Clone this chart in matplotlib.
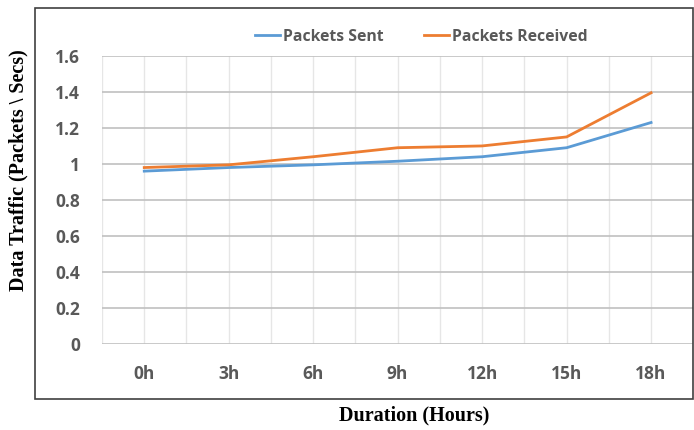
import matplotlib.pyplot as plt
from matplotlib.patches import Rectangle

hours = ['0h', '3h', '6h', '9h', '12h', '15h', '18h']
packets_sent = [0.96, 0.98, 0.995, 1.015, 1.04, 1.09, 1.23]
packets_received = [0.98, 0.995, 1.04, 1.09, 1.10, 1.15, 1.395]
y_ticks = [0, 0.2, 0.4, 0.6, 0.8, 1, 1.2, 1.4, 1.6]

tick_font = 'Open Sans'
gray = '#595959'

fig = plt.figure(figsize=(6.94, 4.30), dpi=100)
ax = fig.add_axes([0.147, 0.2, 0.852, 0.67])

x = list(range(len(hours)))
ax.plot(x, packets_sent, color='#5B9BD5', lw=2, label='Packets Sent', zorder=3)
ax.plot(x, packets_received, color='#ED7D31', lw=2, label='Packets Received', zorder=3)

ax.set_xlim(-0.5, len(hours) - 0.5)
ax.set_ylim(0, 1.6)
ax.set_yticks(y_ticks)
ax.set_yticklabels(['0', '0.2', '0.4', '0.6', '0.8', '1', '1.2', '1.4', '1.6'])
ax.set_xticks(x)
ax.set_xticklabels(hours)
ax.set_xticks([i - 0.5 for i in range(len(hours) + 1)], minor=True)

for lab in ax.get_xticklabels() + ax.get_yticklabels():
    lab.set_fontfamily(tick_font)
    lab.set_fontweight('bold')
    lab.set_fontsize(12.5)
    lab.set_color(gray)

ax.tick_params(axis='both', which='both', length=0)
ax.tick_params(axis='x', pad=15)
ax.tick_params(axis='y', pad=16)

ax.grid(axis='y', color='#C0C0C0', lw=1.2)
ax.grid(axis='x', which='both', color='#E6E6E6', lw=1)
for s in ax.spines.values():
    s.set_visible(False)

fig.text(18 / 694, 1 - 170 / 430, 'Data Traffic (Packets \\ Secs)',
         family='Liberation Serif', fontweight='bold', fontsize=14.5,
         rotation=90, ha='center', va='center')
fig.text(414 / 694, 1 - 415 / 430, 'Duration (Hours)',
         family='Liberation Serif', fontweight='bold', fontsize=14.5,
         ha='center', va='center')

leg = ax.legend(loc='lower center', bbox_to_anchor=(0.54, 0.99), ncol=2,
                frameon=False, handlelength=1.6, handletextpad=0.2,
                columnspacing=2.6,
                prop={'family': tick_font, 'weight': 'bold', 'size': 11.3})
for t in leg.get_texts():
    t.set_color(gray)

fig.patches.append(Rectangle((0.05, 0.072), 0.948, 0.91, transform=fig.transFigure,
                             fill=False, edgecolor='#404040', lw=1.2))

fig.savefig('out.png', dpi=100)
